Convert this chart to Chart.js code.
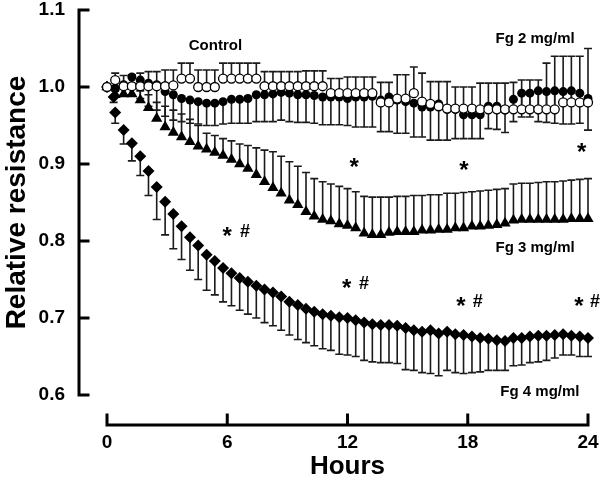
<!DOCTYPE html>
<html>
<head>
<meta charset="utf-8">
<script src="https://cdn.jsdelivr.net/npm/chart.js@4.4.1/dist/chart.umd.min.js"></script>
<style>
  html, body { margin: 0; padding: 0; background: #fff; }
  #wrap { width: 600px; height: 482px; position: relative; }
</style>
</head>
<body>
<div id="wrap"><canvas id="chart"></canvas></div>
<script>
/* TIME POINTS (HOURS) */
const hours = [0, 0.41, 0.83, 1.24, 1.66, 2.07, 2.48, 2.9, 3.31, 3.72, 4.14, 4.55, 4.97, 5.38, 5.79, 6.21, 6.62, 7.03, 7.45, 7.86,
  8.28, 8.69, 9.1, 9.52, 9.93, 10.34, 10.76, 11.17, 11.59, 12, 12.41, 12.83, 13.24, 13.66, 14.07, 14.48, 14.9, 15.31, 15.72, 16.14,
  16.55, 16.97, 17.38, 17.79, 18.21, 18.62, 19.03, 19.45, 19.86, 20.28, 20.69, 21.1, 21.52, 21.93, 22.34, 22.76, 23.17, 23.59, 24]
const fg4Hours = [0, 0.33, 0.41, 0.83, 1.24, 1.66, 2.07, 2.48, 2.9, 3.31, 3.72, 4.14, 4.55, 4.97, 5.38, 5.79, 6.21, 6.62, 7.03, 7.45, 7.86,
  8.28, 8.69, 9.1, 9.52, 9.93, 10.34, 10.76, 11.17, 11.59, 12, 12.41, 12.83, 13.24, 13.66, 14.07, 14.48, 14.9, 15.31, 15.72, 16.14,
  16.55, 16.97, 17.38, 17.79, 18.21, 18.62, 19.03, 19.45, 19.86, 20.28, 20.69, 21.1, 21.52, 21.93, 22.34, 22.76, 23.17, 23.59, 24]

/* CONTROL (OPEN CIRCLES) + UPPER ERROR */
const control = [1.000, 1.009, 1.001, 1.001, 1.001, 1.001, 1.001, 1.001, 1.002, 1.011, 1.011, 1.000, 1.000, 1.000, 1.011, 1.011, 1.011, 1.011, 1.011, 1.001,
  1.001, 1.001, 1.001, 1.001, 1.001, 1.001, 1.001, 0.992, 0.992, 0.992, 0.992, 0.992, 0.992, 0.980, 0.980, 0.985, 0.985, 0.992, 0.981, 0.978,
  0.975, 0.972, 0.972, 0.972, 0.972, 0.971, 0.971, 0.971, 0.971, 0.971, 0.971, 0.971, 0.971, 0.971, 0.971, 0.980, 0.980, 0.980, 0.980]
const controlHigh = [1.000, 1.018, 1.015, 1.016, 1.018, 1.020, 1.020, 1.022, 1.022, 1.031, 1.031, 1.022, 1.022, 1.022, 1.031, 1.031, 1.031, 1.031, 1.031, 1.020,
  1.020, 1.020, 1.020, 1.020, 1.021, 1.021, 1.021, 1.011, 1.011, 1.013, 1.013, 1.013, 1.013, 1.006, 1.006, 1.016, 1.016, 1.026, 1.018, 1.007,
  1.007, 1.007, 1.000, 1.000, 1.000, 1.005, 1.005, 1.005, 1.005, 1.006, 1.009, 1.009, 1.009, 1.031, 1.040, 1.040, 1.040, 1.040, 1.050]

/* FG 2 MG/ML (FILLED CIRCLES) + LOWER ERROR */
const fg2 = [1.000, 0.998, 1.003, 1.013, 1.009, 1.005, 1.003, 0.994, 0.990, 0.985, 0.983, 0.981, 0.979, 0.979, 0.981, 0.984, 0.984, 0.985, 0.990, 0.990,
  0.991, 0.993, 0.992, 0.990, 0.990, 0.989, 0.987, 0.987, 0.987, 0.985, 0.987, 0.987, 0.988, 0.983, 0.987, 0.983, 0.981, 0.979, 0.974, 0.974,
  0.978, 0.971, 0.971, 0.964, 0.964, 0.964, 0.975, 0.975, 0.970, 0.984, 0.992, 0.992, 0.995, 0.994, 0.995, 0.994, 0.995, 0.992, 0.985]
const fg2Low = [1.000, 0.988, 0.990, 0.998, 0.985, 0.975, 0.970, 0.962, 0.957, 0.955, 0.953, 0.952, 0.950, 0.950, 0.952, 0.953, 0.953, 0.953, 0.955, 0.955,
  0.955, 0.957, 0.955, 0.954, 0.954, 0.953, 0.951, 0.951, 0.951, 0.950, 0.948, 0.948, 0.948, 0.942, 0.942, 0.940, 0.940, 0.935, 0.935, 0.931,
  0.931, 0.931, 0.933, 0.933, 0.933, 0.933, 0.946, 0.945, 0.941, 0.955, 0.961, 0.961, 0.955, 0.954, 0.953, 0.952, 0.952, 0.953, 0.944]

/* FG 3 MG/ML (TRIANGLES) + UPPER ERROR */
const fg3 = [1.000, 0.990, 0.991, 0.991, 0.983, 0.973, 0.959, 0.948, 0.941, 0.935, 0.929, 0.923, 0.919, 0.915, 0.911, 0.906, 0.900, 0.894, 0.886, 0.877,
  0.869, 0.862, 0.853, 0.847, 0.838, 0.832, 0.828, 0.826, 0.822, 0.820, 0.817, 0.810, 0.808, 0.808, 0.811, 0.812, 0.812, 0.812, 0.814, 0.814,
  0.815, 0.815, 0.817, 0.817, 0.819, 0.819, 0.820, 0.821, 0.823, 0.827, 0.828, 0.828, 0.828, 0.828, 0.828, 0.828, 0.829, 0.829, 0.829]
const fg3High = [1.000, 0.995, 0.997, 1.000, 0.995, 0.990, 0.980, 0.975, 0.970, 0.965, 0.958, 0.950, 0.940, 0.937, 0.933, 0.930, 0.926, 0.924, 0.921, 0.918,
  0.916, 0.910, 0.903, 0.897, 0.889, 0.881, 0.877, 0.874, 0.871, 0.868, 0.864, 0.858, 0.857, 0.857, 0.857, 0.858, 0.858, 0.859, 0.859, 0.860,
  0.860, 0.862, 0.862, 0.863, 0.864, 0.865, 0.866, 0.867, 0.868, 0.874, 0.875, 0.875, 0.876, 0.877, 0.877, 0.878, 0.879, 0.880, 0.881]

/* FG 4 MG/ML (DIAMONDS) + LOWER ERROR */
const fg4 = [1.000, 0.987, 0.967, 0.944, 0.927, 0.910, 0.891, 0.870, 0.851, 0.835, 0.819, 0.805, 0.794, 0.782, 0.774, 0.765, 0.758, 0.752, 0.747, 0.742,
  0.737, 0.733, 0.728, 0.721, 0.717, 0.712, 0.708, 0.705, 0.703, 0.701, 0.700, 0.697, 0.694, 0.692, 0.691, 0.691, 0.690, 0.687, 0.684, 0.682,
  0.684, 0.680, 0.682, 0.679, 0.678, 0.676, 0.674, 0.673, 0.671, 0.670, 0.674, 0.674, 0.676, 0.677, 0.677, 0.678, 0.679, 0.677, 0.676, 0.674]
const fg4Low = [1.000, 0.980, 0.953, 0.926, 0.904, 0.885, 0.859, 0.828, 0.808, 0.790, 0.776, 0.762, 0.750, 0.736, 0.730, 0.721, 0.716, 0.710, 0.705, 0.700,
  0.694, 0.690, 0.684, 0.678, 0.672, 0.668, 0.664, 0.660, 0.658, 0.653, 0.652, 0.650, 0.645, 0.643, 0.642, 0.642, 0.641, 0.633, 0.632, 0.629,
  0.628, 0.625, 0.632, 0.629, 0.628, 0.629, 0.630, 0.632, 0.632, 0.632, 0.638, 0.639, 0.642, 0.643, 0.645, 0.648, 0.652, 0.652, 0.650, 0.650]

/* TEXT ON THE PLOT */
const groupLabels = ['Control', 'Fg 2 mg/ml', 'Fg 3 mg/ml', 'Fg 4 mg/ml']
const groupLabelHours = [5.41, 21.36, 21.36, 21.6]
const groupLabelValues = [1.053, 1.062, 0.791, 0.604]
const starHours = [6.0, 11.96, 17.66, 23.55, 12.33, 17.81, 23.68]
const starValues = [0.814, 0.747, 0.723, 0.723, 0.904, 0.900, 0.923]
const hashHours = [6.89, 12.82, 18.5, 24.35]
const hashValues = [0.814, 0.747, 0.723, 0.723]

const yTicks = [0.6, 0.7, 0.8, 0.9, 1.0, 1.1]
const xTicks = [0, 6, 12, 18, 24]

const toPoints = (xs, ys) => ys.map((v, i) => ({ x: xs[i], y: v }))

/* BARRAS DE ERROR (SOLO UN LADO) */
const errorBars = {
  id: 'errorBars',
  beforeDatasetsDraw(chart) {
    const { ctx, scales: { x, y } } = chart
    ctx.save()
    ctx.strokeStyle = '#1a1a1a'
    ctx.lineWidth = 1.6
    chart.data.datasets.forEach(ds => {
      ds.data.forEach((p, i) => {
        const px = x.getPixelForValue(p.x)
        const py = y.getPixelForValue(p.y)
        const pe = y.getPixelForValue(ds.bound[i])
        if (Math.abs(pe - py) < 1.5) return
        ctx.beginPath()
        ctx.moveTo(px, py)
        ctx.lineTo(px, pe)
        ctx.moveTo(px - 4, pe)
        ctx.lineTo(px + 4, pe)
        ctx.stroke()
      })
    })
    ctx.restore()
  }
}

/* EJES SEPARADOS DEL AREA (ESTILO PRISM) */
const axes = {
  id: 'axes',
  afterDraw(chart) {
    const { ctx, chartArea, scales: { x, y } } = chart
    ctx.save()
    ctx.strokeStyle = '#000'
    ctx.lineWidth = 3
    ctx.lineCap = 'square'
    const ax = chartArea.left - 28
    ctx.beginPath()
    ctx.moveTo(ax, y.getPixelForValue(1.1))
    ctx.lineTo(ax, y.getPixelForValue(0.6))
    yTicks.forEach(v => {
      const py = y.getPixelForValue(v)
      ctx.moveTo(ax, py)
      ctx.lineTo(ax + 9, py)
    })
    ctx.stroke()
    const ay = chartArea.bottom + 30
    ctx.beginPath()
    ctx.moveTo(x.getPixelForValue(0), ay)
    ctx.lineTo(x.getPixelForValue(24), ay)
    xTicks.forEach(v => {
      const px = x.getPixelForValue(v)
      ctx.moveTo(px, ay)
      ctx.lineTo(px, ay - 10)
    })
    ctx.stroke()
    ctx.restore()
  }
}

/* ETIQUETAS Y SIMBOLOS DE SIGNIFICANCIA */
const notes = {
  id: 'notes',
  afterDatasetsDraw(chart) {
    const { ctx, scales: { x, y } } = chart
    ctx.save()
    ctx.fillStyle = '#000'
    ctx.textAlign = 'center'
    ctx.textBaseline = 'middle'
    ctx.font = 'bold 15px "Liberation Sans", Arial, sans-serif'
    groupLabels.forEach((t, i) => {
      ctx.fillText(t, x.getPixelForValue(groupLabelHours[i]), y.getPixelForValue(groupLabelValues[i]))
    })
    ctx.textBaseline = 'alphabetic'
    ctx.font = 'bold 24px "Liberation Sans", Arial, sans-serif'
    starHours.forEach((h, i) => {
      ctx.fillText('*', x.getPixelForValue(h), y.getPixelForValue(starValues[i]) + 14)
    })
    ctx.font = 'bold 18px "Liberation Sans", Arial, sans-serif'
    hashHours.forEach((h, i) => {
      ctx.fillText('#', x.getPixelForValue(h), y.getPixelForValue(hashValues[i]) + 7)
    })
    ctx.restore()
  }
}

const font = { family: '"Liberation Sans", Arial, sans-serif', weight: 'bold' }

new Chart(document.querySelector('#chart'), {
  type: 'scatter',
  data: {
    datasets: [
      { label: 'Control', data: toPoints(hours, control), bound: controlHigh, pointStyle: 'circle', pointRadius: 4.5,
        backgroundColor: '#fff', borderColor: '#000', borderWidth: 1.3 },
      { label: 'Fg 2 mg/ml', data: toPoints(hours, fg2), bound: fg2Low, pointStyle: 'circle', pointRadius: 4.5,
        backgroundColor: '#000', borderColor: '#000', borderWidth: 0 },
      { label: 'Fg 3 mg/ml', data: toPoints(hours, fg3), bound: fg3High, pointStyle: 'triangle', pointRadius: 6.5,
        backgroundColor: '#000', borderColor: '#000', borderWidth: 0 },
      { label: 'Fg 4 mg/ml', data: toPoints(fg4Hours, fg4), bound: fg4Low, pointStyle: 'rectRot', pointRadius: 6,
        backgroundColor: '#000', borderColor: '#000', borderWidth: 0 }
    ]
  },
  options: {
    responsive: true,
    maintainAspectRatio: false,
    animation: false,
    clip: false,
    layout: { padding: { top: 10, right: 12, bottom: 0, left: 0 } },
    plugins: { legend: { display: false }, tooltip: { enabled: false } },
    scales: {
      x: {
        type: 'linear', min: 0, max: 24,
        border: { display: false },
        grid: { display: false, drawTicks: false },
        ticks: { stepSize: 6, padding: 38, color: '#000', font: { ...font, size: 19, lineHeight: 1 } },
        title: { display: true, text: 'Hours', color: '#000', padding: 0, font: { ...font, size: 26 } },
        afterFit: (scale) => { scale.height = 87; scale.paddingLeft = 0; scale.paddingRight = 0 }
      },
      y: {
        type: 'linear', min: 0.6, max: 1.1,
        border: { display: false },
        grid: { display: false, drawTicks: false },
        ticks: { stepSize: 0.1, padding: 42, color: '#000', font: { ...font, size: 19, lineHeight: 1 },
          callback: (v) => v.toFixed(1) },
        title: { display: true, text: 'Relative resistance', color: '#000', padding: 0, font: { ...font, size: 28 } },
        afterFit: (scale) => { scale.width = 107; scale.paddingTop = 0; scale.paddingBottom = 0 }
      }
    }
  },
  plugins: [errorBars, notes, axes]
})
</script>
</body>
</html>
